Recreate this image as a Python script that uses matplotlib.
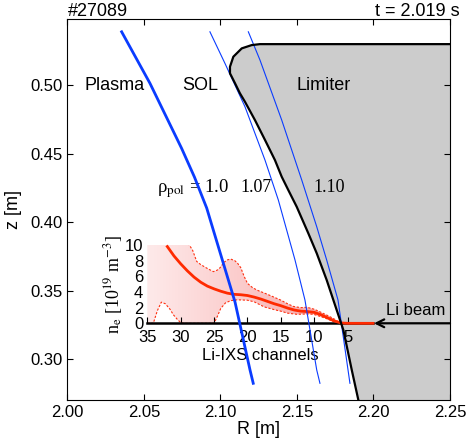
import matplotlib
matplotlib.use('Agg')
import matplotlib.pyplot as plt
import numpy as np
from matplotlib.patches import Polygon

plt.rcParams['font.family'] = ['Liberation Sans', 'DejaVu Sans']
plt.rcParams['mathtext.fontset'] = 'stix'

# flux surfaces rho_pol = 1.0, 1.07, 1.10 (R, z in m)
sep_R = [2.0354, 2.0539, 2.0746, 2.0830, 2.0910, 2.0953, 2.1095, 2.1193, 2.1214]
sep_z = [0.5391, 0.5015, 0.4540, 0.4330, 0.4104, 0.3944, 0.3418, 0.2922, 0.2825]
r107_R = [2.0931, 2.1029, 2.1160, 2.1291, 2.1378, 2.1487, 2.1552, 2.1629, 2.1650]
r107_z = [0.5391, 0.5161, 0.4844, 0.4454, 0.4163, 0.3725, 0.3433, 0.2922, 0.2825]
r110_R = [2.1182, 2.1258, 2.1400, 2.1531, 2.1629, 2.1694, 2.1768, 2.1846]
r110_z = [0.5391, 0.5185, 0.4747, 0.4309, 0.3968, 0.3725, 0.3433, 0.2825]

# limiter contour
lim_R = [2.25, 2.1258, 2.1204, 2.1139, 2.1084, 2.1062, 2.1062, 2.1095, 2.1127, 2.1160,
         2.1225, 2.1291, 2.1356, 2.1400, 2.1443, 2.1498, 2.1574, 2.1629, 2.1694, 2.1803,
         2.1858, 2.1901]
lim_z = [0.5301, 0.5301, 0.5294, 0.5270, 0.5209, 0.5136, 0.5088, 0.5015, 0.4942, 0.4880,
         0.4747, 0.4601, 0.4454, 0.4333, 0.4236, 0.4114, 0.3920, 0.3774, 0.3579, 0.3214,
         0.2922, 0.2703]

# Li-IXS density profile
ch_mean = [32, 31, 30, 29, 28, 27, 26, 25, 24, 23, 22, 21, 20, 19, 18, 17, 16, 15,
           14, 13, 12, 11, 10, 9, 8, 7, 6, 5, 1.2]
ne_mean = [9.8, 8.6, 7.6, 6.7, 5.9, 5.25, 4.75, 4.4, 4.1, 3.85, 3.7, 3.65, 3.55, 3.35,
           3.1, 2.8, 2.5, 2.25, 1.95, 1.7, 1.55, 1.5, 1.4, 1.1, 0.7, 0.3, 0.05, 0.0, 0.0]
ch_up = [35, 31, 29.5, 28.7, 28.2, 27.6, 27, 26.6, 26, 25.1, 24.5, 24.1, 23.5, 23.0,
         22.5, 21.9, 21.5, 21.0, 20.5, 20, 19.3, 18.6, 17, 15.1, 14, 13.1, 12, 11.1,
         10, 9.1, 8, 7.1, 6.1, 5]
ne_up = [12.0, 12.0, 11.0, 10.0, 9.3, 7.9, 7.5, 7.3, 7.0, 6.6, 6.8, 7.1, 7.8, 8.1,
         8.2, 8.0, 7.7, 7.1, 6.0, 5.1, 4.6, 4.25, 3.7, 3.0, 2.5, 2.15, 2.0, 2.05,
         1.8, 1.45, 1.0, 0.6, 0.05, 0.0]
ch_lo = [35, 34.1, 33.5, 32.9, 32.3, 31.6, 31.1, 30.5, 30.0, 29.6, 25.0, 24.5, 24.0,
         23.3, 22.5, 21.5, 20, 19.0, 17.5, 16, 15.0, 14, 12.6, 11, 10.1, 9.0, 8.0,
         7.1, 6.5, 5]
ne_lo = [0, 0, 1.6, 2.7, 2.5, 1.8, 1.1, 0.5, 0.1, 0, 0, 0.9, 1.9, 2.6, 2.9, 3.0, 2.95,
         2.75, 2.1, 1.75, 1.55, 1.3, 1.15, 1.2, 1.15, 0.85, 0.55, 0.2, 0, 0]

fig = plt.figure(figsize=(4.67, 4.44), dpi=100)
ax = fig.add_axes([0.1445, 0.0991, 0.8191, 0.8592])
ax.set_xlim(2.0, 2.25)
ax.set_ylim(0.2703, 0.5488)
ax.set_xticks([2.00, 2.05, 2.10, 2.15, 2.20, 2.25])
ax.set_yticks([0.30, 0.35, 0.40, 0.45, 0.50])
ax.tick_params(direction='in', top=True, right=True, length=4, labelsize=12)
ax.set_xlabel('R [m]', fontsize=13, labelpad=1)
ax.set_ylabel('z [m]', fontsize=13, labelpad=6)

ax.fill(lim_R + [2.25], lim_z + [0.2703], color='#cccccc', lw=0)

ax.text(2.031, 0.50, 'Plasma', fontsize=13, ha='center', va='center')
ax.text(2.0866, 0.50, 'SOL', fontsize=13, ha='center', va='center')
ax.text(2.1676, 0.50, 'Limiter', fontsize=13, ha='center', va='center')
ax.text(2.0585, 0.4222, 'ρ$_{\\rm pol}$ = 1.0', fontsize=13.5, family='Liberation Serif',
        ha='left', va='baseline')
ax.text(2.1232, 0.4222, '1.07', fontsize=13, family='Liberation Serif', ha='center', va='baseline')
ax.text(2.1709, 0.4222, '1.10', fontsize=13, family='Liberation Serif', ha='center', va='baseline')
ax.text(2.2278, 0.3353, 'Li beam', fontsize=12, ha='center', va='center')
ax.text(0.0, 1.0065, '#27089', fontsize=13, ha='left', va='baseline', transform=ax.transAxes)
ax.text(1.026, 1.0065, 't = 2.019 s', fontsize=13, ha='right', va='baseline',
        transform=ax.transAxes)

# inset with density profile
axi = fig.add_axes([0.3154, 0.2718, 0.4833, 0.1764], zorder=1)
axi.patch.set_visible(False)
axi.set_xlim(35, 1.2)
axi.set_ylim(0, 10)
for s in ['left', 'top', 'right']:
    axi.spines[s].set_visible(False)
axi.spines['bottom'].set_linewidth(1.8)
axi.set_xticks([35, 30, 25, 20, 15, 10, 5])
axi.set_yticks([0, 2, 4, 6, 8, 10])
axi.tick_params(axis='x', direction='in', length=4, labelsize=12, pad=5)
axi.tick_params(axis='y', length=0, labelsize=12, pad=3)
axi.set_xlabel('Li-IXS channels', fontsize=12, labelpad=2)
axi.set_ylabel('n$_{\\rm e}$ [10$^{19}$ m$^{-3}$]', fontsize=13, family='Liberation Serif',
               labelpad=0)

poly = Polygon(np.column_stack([ch_up + ch_lo[::-1], ne_up + ne_lo[::-1]]),
               closed=True, facecolor='none', edgecolor='none')
axi.add_patch(poly)
grad = np.linspace(0, 1, 256).reshape(1, -1)
cmap = matplotlib.colors.LinearSegmentedColormap.from_list(
    'pink', ['#feeaea', '#fbcccc', '#f7a0a0'])
im = axi.imshow(grad, extent=[35, 7, 0, 12], aspect='auto', cmap=cmap, zorder=1)
im.set_clip_path(poly)
axi.plot(ch_up, ne_up, color='#ff3010', lw=0.8, ls=(0, (2, 1.5)), zorder=2)
axi.plot(ch_lo, ne_lo, color='#ff3010', lw=0.8, ls=(0, (2, 1.5)), zorder=2)
axi.plot(ch_mean, ne_mean, color='#ff2a00', lw=2, zorder=3, clip_on=False)
axi.set_ylim(0, 10)

# overlay for flux surfaces, limiter contour and beam arrow
ax2 = fig.add_axes(ax.get_position(), sharex=ax, sharey=ax, zorder=2)
ax2.set_axis_off()
ax2.plot(sep_R, sep_z, color='#0a3cff', lw=2)
ax2.plot(r107_R, r107_z, color='#0a3cff', lw=0.8)
ax2.plot(r110_R, r110_z, color='#0a3cff', lw=0.8)
ax2.plot(lim_R, lim_z, color='black', lw=1.6)
ax2.annotate('', xy=(2.2003, 0.3263), xytext=(2.25, 0.3263),
             arrowprops=dict(arrowstyle='->', lw=1.6, color='black', shrinkA=0, shrinkB=0,
                             mutation_scale=14))

fig.savefig('out.png', dpi=100)
